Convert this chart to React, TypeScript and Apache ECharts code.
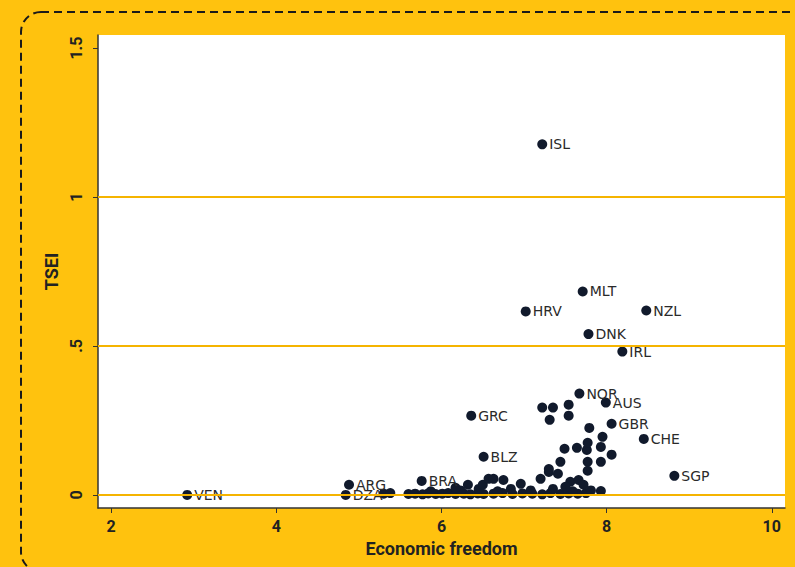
import React, { useEffect, useRef } from "react";
import * as echarts from "echarts";

// Labelled countries
const countries = ["VEN", "DZA", "ARG", "BRA", "BLZ", "GRC", "HRV", "ISL", "MLT", "DNK", "NZL", "IRL", "NOR", "AUS", "GBR", "CHE", "SGP"];
const freedomLabelled = [2.92, 4.84, 4.88, 5.76, 6.51, 6.36, 7.02, 7.22, 7.71, 7.78, 8.48, 8.19, 7.67, 7.99, 8.06, 8.45, 8.82];
const tseiLabelled = [0.0, 0.0, 0.034, 0.047, 0.128, 0.266, 0.616, 1.177, 0.683, 0.54, 0.619, 0.481, 0.34, 0.31, 0.239, 0.188, 0.064];

// Unlabelled countries
const freedomOther = [
  5.30, 5.38, 5.60, 5.68, 5.77, 5.84, 5.93, 6.01, 6.08, 6.17, 6.27, 6.35, 6.44, 6.51, 6.63, 6.74, 6.86, 6.98, 7.10, 7.22, 7.32, 7.44, 7.54, 7.65, 7.75,
  5.87, 6.23, 6.45, 6.68, 6.84, 7.08, 7.35, 7.59, 7.81, 7.93,
  6.32, 6.50, 6.57, 6.63, 6.75, 6.96, 7.20, 7.56, 7.66, 7.72, 7.50, 6.17,
  7.30, 7.41, 7.30, 7.44, 7.77, 7.77, 7.93, 8.06, 7.49, 7.64, 7.76, 7.77, 7.93, 7.95, 7.79,
  7.22, 7.35, 7.54, 7.54, 7.31
];
const tseiOther = [
  0.004, 0.006, 0.003, 0.004, 0.002, 0.005, 0.003, 0.004, 0.006, 0.003, 0.004, 0.002, 0.005, 0.003, 0.004, 0.006, 0.003, 0.005, 0.004, 0.002, 0.006, 0.003, 0.005, 0.004, 0.006,
  0.012, 0.015, 0.02, 0.012, 0.02, 0.015, 0.02, 0.012, 0.015, 0.013,
  0.034, 0.034, 0.054, 0.054, 0.05, 0.037, 0.054, 0.044, 0.05, 0.034, 0.027, 0.024,
  0.077, 0.071, 0.087, 0.111, 0.111, 0.081, 0.111, 0.135, 0.155, 0.158, 0.151, 0.175, 0.161, 0.195, 0.225,
  0.293, 0.293, 0.303, 0.266, 0.252
];

const gridValues = [0, 0.5, 1];
const yTicks = [0, 0.5, 1, 1.5];
const yTickLabels = ["0", ".5", "1", "1.5"];
const xTicks = [2, 4, 6, 8, 10];

const YELLOW = "#FFC20E";
const LINE_YELLOW = "#F5B400";
const DOT = "#111a2c";

export default function App() {
  const ref = useRef<HTMLDivElement>(null);
  useEffect(() => {
    if (!ref.current) return;
    const chart = echarts.init(ref.current, null, { renderer: "svg" });
    const labelled = countries.map((c, i) => [freedomLabelled[i], tseiLabelled[i], c]);
    const other = freedomOther.map((x, i) => [x, tseiOther[i]]);
    chart.setOption({
      animation: false,
      backgroundColor: YELLOW,
      textStyle: { fontFamily: "Roboto" },
      graphic: [
        {
          type: "rect",
          shape: { x: 21, y: 12, width: 820, height: 560, r: 20 },
          style: { fill: "none", stroke: "#1a1a1a", lineWidth: 2, lineDash: [8, 5] },
          silent: true,
          z: 100,
        },
      ],
      grid: {
        left: 98,
        top: 35,
        right: 10,
        bottom: 59,
        show: true,
        backgroundColor: "#ffffff",
        borderWidth: 0,
      },
      xAxis: {
        type: "value",
        min: 1.84,
        max: 10.16,
        name: "Economic freedom",
        nameLocation: "middle",
        nameGap: 31,
        nameTextStyle: { fontSize: 18, fontWeight: "bold", color: "#222", fontFamily: "Roboto" },
        axisLine: { show: true, onZero: false, lineStyle: { color: "#333", width: 1.5 } },
        axisTick: { show: true, customValues: xTicks, length: 5, lineStyle: { color: "#333" } },
        axisLabel: {
          customValues: xTicks,
          fontSize: 16,
          fontWeight: "bold",
          color: "#222",
          margin: 10,
          fontFamily: "Roboto",
        },
        splitLine: { show: false },
      },
      yAxis: {
        type: "value",
        min: -0.044,
        max: 1.544,
        name: "TSEI",
        nameLocation: "middle",
        nameGap: 38,
        nameRotate: 90,
        nameTextStyle: { fontSize: 18, fontWeight: "bold", color: "#222", fontFamily: "Roboto" },
        axisLine: { show: true, onZero: false, lineStyle: { color: "#333", width: 1.5 } },
        axisTick: { show: true, customValues: yTicks, length: 5, lineStyle: { color: "#333" } },
        axisLabel: {
          customValues: yTicks,
          rotate: 90,
          fontSize: 16,
          fontWeight: "bold",
          color: "#222",
          margin: 14,
          fontFamily: "Roboto",
          formatter: (v: number) => {
            const i = yTicks.indexOf(v);
            return i >= 0 ? yTickLabels[i] : "";
          },
        },
        splitLine: { show: false },
      },
      series: [
        {
          type: "scatter",
          data: [],
          z: 1,
          silent: true,
          markLine: {
            silent: true,
            symbol: "none",
            label: { show: false },
            lineStyle: { color: LINE_YELLOW, width: 2, type: "solid" },
            data: gridValues.map((v) => ({ yAxis: v })),
          },
        },
        {
          type: "scatter",
          data: other,
          symbolSize: 10,
          z: 3,
          itemStyle: { color: DOT, opacity: 1 },
        },
        {
          type: "scatter",
          data: labelled,
          symbolSize: 10,
          z: 4,
          itemStyle: { color: DOT, opacity: 1 },
          label: {
            show: true,
            position: "right",
            distance: 2,
            fontSize: 14,
            color: "#2a2a2a",
            fontFamily: "DejaVu Sans",
            formatter: (p: any) => p.data[2],
          },
          labelLayout: { hideOverlap: false },
        },
      ],
    });
    return () => chart.dispose();
  }, []);
  return (
    <div
      ref={ref}
      style={{ position: "fixed", left: 0, top: 0, width: 795, height: 567 }}
    />
  );
}
